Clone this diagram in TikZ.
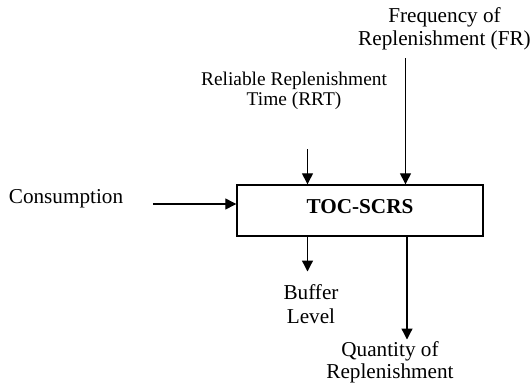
\documentclass[tikz,border=0pt]{standalone}
\usepackage{fontspec}
\setmainfont{Liberation Serif}
\usetikzlibrary{arrows.meta}

\begin{document}
\begin{tikzpicture}[x=0.5pt, y=-0.5pt,
    txt/.style={align=center, inner sep=0pt, font=\fontsize{10.6}{11.5}\selectfont},
    flow/.style={-{Triangle[length=5.5pt,width=5.5pt]}, line width=0.65pt}]

    \useasboundingbox (0,0) rectangle (532,382);

    \node [draw, line width=0.7pt, minimum width=123pt, minimum height=25.5pt,
           text height=7.5pt, text depth=4.3pt,
           font=\bfseries\fontsize{10.6}{12}\selectfont] (scrs) at (360,210.5) {TOC-SCRS};

    \coordinate (cin) at (153,204);
    \coordinate (rin) at (307.5,149);
    \coordinate (fin) at (405.5,58);
    \coordinate (bout) at (307.5,271.5);
    \coordinate (qout) at (407,339.5);

    \node [txt] (cons) at (66,198.5) {Consumption};
    \node [txt, font=\fontsize{9.7}{9.75}\selectfont] (rrt) at (294,91) {Reliable Replenishment\\Time (RRT)};
    \node [txt] (fr) at (444.5,29) {Frequency of\\Replenishment (FR)};
    \node [txt, font=\fontsize{10.6}{12.3}\selectfont] (buf) at (311,304) {Buffer\\Level};
    \node [txt, font=\fontsize{10.6}{11}\selectfont] (qty) at (390,362) {Quantity of\\Replenishment};

    \draw [flow] (cin) -- (scrs.west |- cin);
    \draw [flow] (rin) -- (rin |- scrs.north);
    \draw [flow] (fin) -- (fin |- scrs.north);
    \draw [flow] (bout |- scrs.south) -- (bout);
    \draw [flow] (qout |- scrs.south) -- (qout);

\end{tikzpicture}
\end{document}
